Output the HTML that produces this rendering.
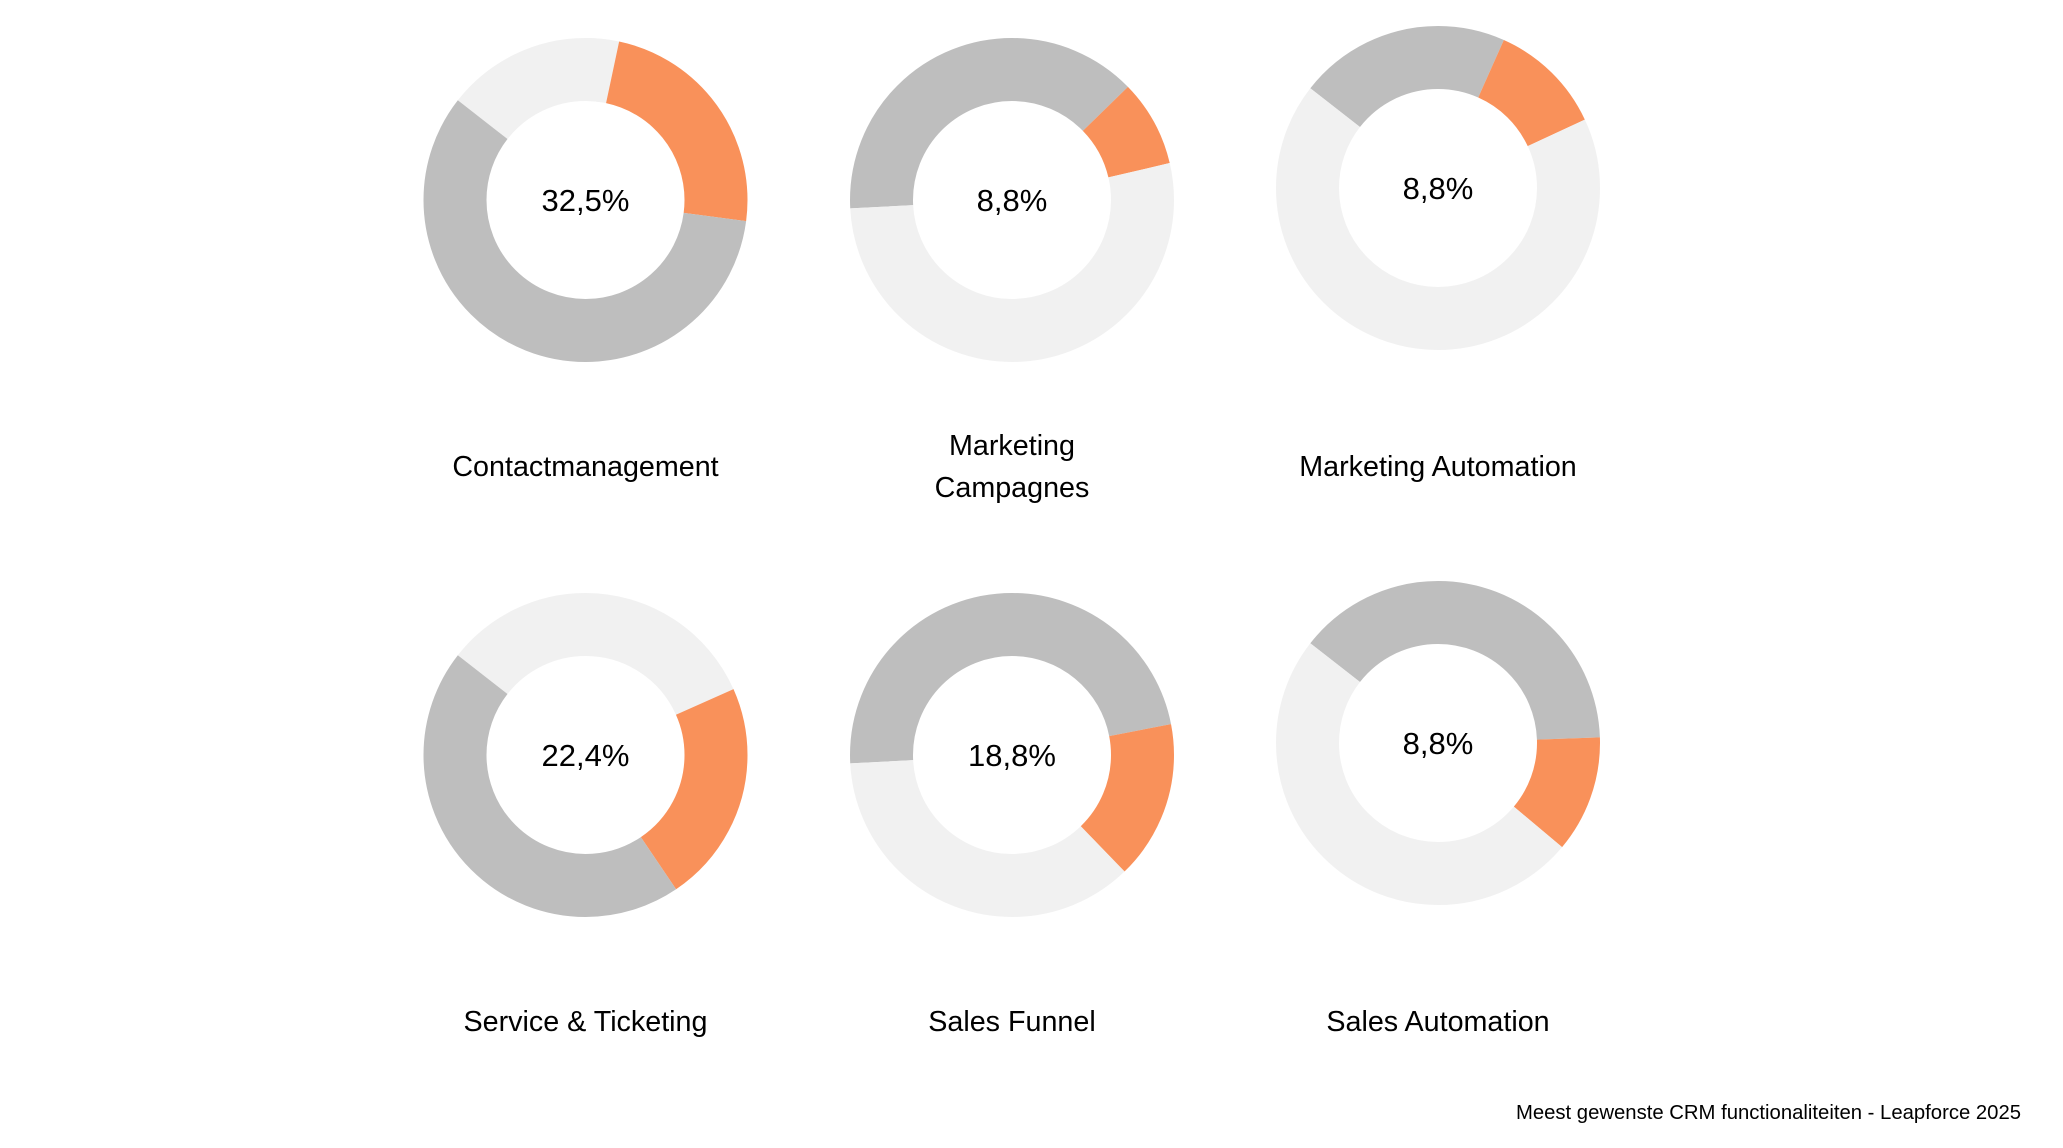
<!DOCTYPE html>
<html><head><meta charset="utf-8"><style>
html,body{margin:0;padding:0;background:#fff;}
svg{display:block;}
text{font-family:"Liberation Sans",Arial,sans-serif;fill:#000;}
</style></head><body>
<svg width="2063" height="1148" viewBox="0 0 2063 1148" xmlns="http://www.w3.org/2000/svg">
<g fill="none" stroke-width="63">
 <g transform="translate(585.5,200) rotate(-90)">
  <circle r="130.5" pathLength="360" stroke="#F1F1F1" stroke-dasharray="61 299" stroke-dashoffset="-308"/>
  <circle r="130.5" pathLength="360" stroke="#F1F1F1" stroke-dasharray="12 348" stroke-dashoffset="0"/>
  <circle r="130.5" pathLength="360" stroke="#F9915A" stroke-dasharray="85.5 274.5" stroke-dashoffset="-12"/>
  <circle r="130.5" pathLength="360" stroke="#BEBEBE" stroke-dasharray="210.5 149.5" stroke-dashoffset="-97.5"/>
 </g>
 <g transform="translate(1012,200) rotate(-90)">
  <circle r="130.5" pathLength="360" stroke="#BEBEBE" stroke-dasharray="93 267" stroke-dashoffset="-267"/>
  <circle r="130.5" pathLength="360" stroke="#BEBEBE" stroke-dasharray="45.7 314.3" stroke-dashoffset="0"/>
  <circle r="130.5" pathLength="360" stroke="#F9915A" stroke-dasharray="31.1 328.9" stroke-dashoffset="-45.7"/>
  <circle r="130.5" pathLength="360" stroke="#F1F1F1" stroke-dasharray="190.2 169.8" stroke-dashoffset="-76.8"/>
 </g>
 <g transform="translate(1438,188) rotate(-90)">
  <circle r="130.5" pathLength="360" stroke="#BEBEBE" stroke-dasharray="52 308" stroke-dashoffset="-308"/>
  <circle r="130.5" pathLength="360" stroke="#BEBEBE" stroke-dasharray="24 336" stroke-dashoffset="0"/>
  <circle r="130.5" pathLength="360" stroke="#F9915A" stroke-dasharray="41 319" stroke-dashoffset="-24"/>
  <circle r="130.5" pathLength="360" stroke="#F1F1F1" stroke-dasharray="243 117" stroke-dashoffset="-65"/>
 </g>
 <g transform="translate(585.5,755) rotate(-90)">
  <circle r="130.5" pathLength="360" stroke="#F1F1F1" stroke-dasharray="52 308" stroke-dashoffset="-308"/>
  <circle r="130.5" pathLength="360" stroke="#F1F1F1" stroke-dasharray="66 294" stroke-dashoffset="0"/>
  <circle r="130.5" pathLength="360" stroke="#F9915A" stroke-dasharray="80 280" stroke-dashoffset="-66"/>
  <circle r="130.5" pathLength="360" stroke="#BEBEBE" stroke-dasharray="162 198" stroke-dashoffset="-146"/>
 </g>
 <g transform="translate(1012,755) rotate(-90)">
  <circle r="130.5" pathLength="360" stroke="#BEBEBE" stroke-dasharray="93 267" stroke-dashoffset="-267"/>
  <circle r="130.5" pathLength="360" stroke="#BEBEBE" stroke-dasharray="79 281" stroke-dashoffset="0"/>
  <circle r="130.5" pathLength="360" stroke="#F9915A" stroke-dasharray="57 303" stroke-dashoffset="-79"/>
  <circle r="130.5" pathLength="360" stroke="#F1F1F1" stroke-dasharray="131 229" stroke-dashoffset="-136"/>
 </g>
 <g transform="translate(1438,743) rotate(-90)">
  <circle r="130.5" pathLength="360" stroke="#BEBEBE" stroke-dasharray="52 308" stroke-dashoffset="-308"/>
  <circle r="130.5" pathLength="360" stroke="#BEBEBE" stroke-dasharray="88 272" stroke-dashoffset="0"/>
  <circle r="130.5" pathLength="360" stroke="#F9915A" stroke-dasharray="42 318" stroke-dashoffset="-88"/>
  <circle r="130.5" pathLength="360" stroke="#F1F1F1" stroke-dasharray="178 182" stroke-dashoffset="-130"/>
 </g>
</g>
<g font-size="31" text-anchor="middle">
 <text x="585.5" y="211">32,5%</text>
 <text x="1012" y="211">8,8%</text>
 <text x="1438" y="199">8,8%</text>
 <text x="585.5" y="766">22,4%</text>
 <text x="1012" y="766">18,8%</text>
 <text x="1438" y="754">8,8%</text>
</g>
<g font-size="28.7" text-anchor="middle">
 <text x="585.5" y="476">Contactmanagement</text>
 <text x="1012" y="455">Marketing</text>
 <text x="1012" y="497">Campagnes</text>
 <text x="1438" y="476">Marketing Automation</text>
 <text x="585.5" y="1031">Service &amp; Ticketing</text>
 <text x="1012" y="1031">Sales Funnel</text>
 <text x="1438" y="1031">Sales Automation</text>
</g>
<text x="2021" y="1119" font-size="20.3" text-anchor="end">Meest gewenste CRM functionaliteiten - Leapforce 2025</text>
</svg>
</body></html>
